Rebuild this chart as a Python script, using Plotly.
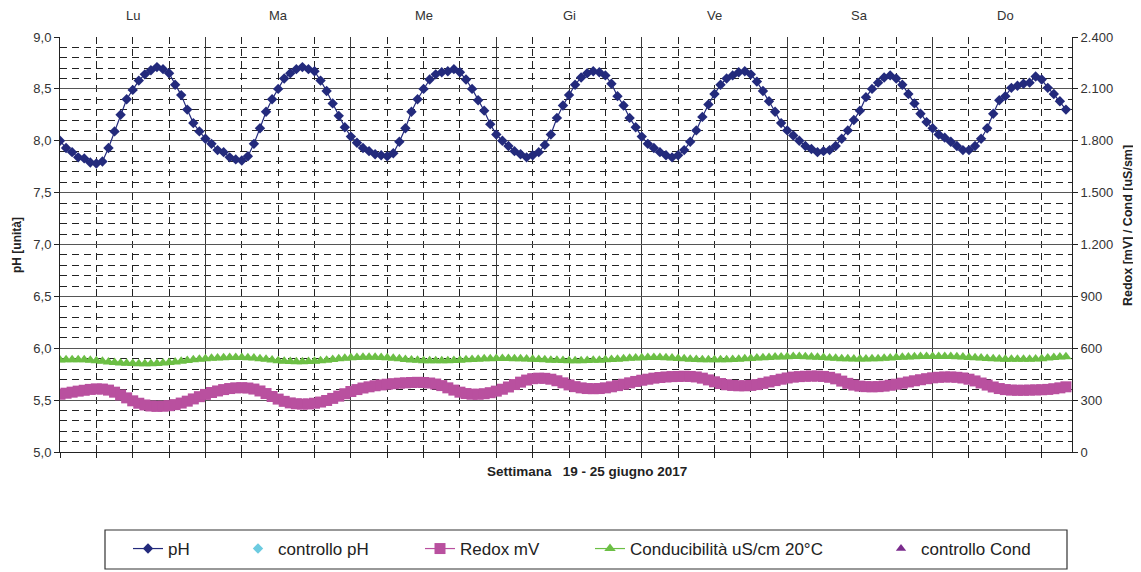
import plotly.graph_objects as go

# ---------------- data (hourly readings, Mon 00:00 -> Sun 22:00) ----------------
days = ["Lu", "Ma", "Me", "Gi", "Ve", "Sa", "Do"]

ph = [8.00, 7.93, 7.89, 7.84, 7.83, 7.79, 7.78, 7.80, 7.93, 8.09, 8.25, 8.40, 8.49, 8.58, 8.64, 8.68,
      8.71, 8.69, 8.65, 8.54, 8.44, 8.30, 8.17, 8.09, 8.02, 7.97, 7.91, 7.89, 7.84, 7.82, 7.81, 7.85,
      7.97, 8.12, 8.28, 8.40, 8.50, 8.60, 8.65, 8.69, 8.71, 8.69, 8.67, 8.58, 8.48, 8.36, 8.24, 8.13,
      8.04, 7.98, 7.93, 7.90, 7.87, 7.86, 7.85, 7.88, 7.99, 8.12, 8.28, 8.40, 8.50, 8.59, 8.64, 8.66,
      8.67, 8.69, 8.66, 8.59, 8.50, 8.39, 8.29, 8.16, 8.06, 8.00, 7.95, 7.90, 7.87, 7.84, 7.86, 7.89,
      7.96, 8.06, 8.22, 8.34, 8.44, 8.54, 8.61, 8.65, 8.67, 8.66, 8.63, 8.55, 8.43, 8.34, 8.22, 8.13,
      8.04, 7.97, 7.93, 7.89, 7.86, 7.84, 7.86, 7.91, 7.99, 8.10, 8.23, 8.35, 8.45, 8.54, 8.60, 8.63,
      8.66, 8.67, 8.64, 8.57, 8.48, 8.38, 8.28, 8.17, 8.10, 8.05, 8.00, 7.95, 7.92, 7.89, 7.90, 7.91,
      7.95, 8.02, 8.10, 8.20, 8.29, 8.42, 8.50, 8.56, 8.61, 8.63, 8.60, 8.54, 8.45, 8.36, 8.26, 8.18,
      8.12, 8.06, 8.03, 7.99, 7.95, 7.91, 7.91, 7.95, 8.02, 8.12, 8.26, 8.39, 8.43, 8.51, 8.53, 8.55,
      8.56, 8.62, 8.59, 8.51, 8.45, 8.38, 8.30]

redox = [334, 340, 346, 352, 357, 362, 365, 364, 358, 346, 330, 313, 296, 282, 272, 266,
         264, 265, 268, 274, 283, 294, 307, 320, 333, 344, 353, 361, 367, 371, 372, 370,
         364, 353, 338, 321, 306, 293, 284, 279, 277, 278, 282, 289, 298, 310, 323, 337,
         350, 361, 370, 377, 383, 388, 392, 395, 398, 400, 402, 403, 402, 399, 393, 384,
         371, 358, 346, 338, 334, 334, 337, 343, 352, 363, 376, 390, 404, 416, 424, 427,
         426, 421, 412, 400, 388, 378, 371, 367, 366, 367, 371, 377, 384, 392, 400, 408,
         415, 421, 427, 431, 434, 436, 437, 438, 437, 434, 427, 417, 406, 396, 389, 385,
         383, 383, 385, 390, 397, 405, 413, 421, 428, 433, 436, 438, 439, 439, 437, 432,
         423, 410, 397, 387, 381, 378, 377, 378, 381, 386, 392, 398, 405, 412, 418, 424,
         429, 432, 434, 434, 432, 428, 421, 411, 399, 387, 376, 367, 361, 358, 357, 357,
         358, 359, 360, 362, 366, 371, 377]

cond = [532, 533, 534, 534, 533, 531, 528, 525, 521, 518, 515, 513, 512, 511, 511, 511,
        512, 514, 517, 521, 525, 529, 533, 537, 540, 542, 544, 545, 546, 546, 546, 545,
        543, 540, 536, 532, 528, 525, 523, 522, 522, 523, 525, 528, 531, 535, 539, 542,
        545, 547, 548, 548, 548, 547, 545, 542, 539, 535, 532, 530, 528, 527, 527, 527,
        528, 529, 531, 533, 535, 537, 539, 540, 541, 541, 541, 540, 539, 538, 537, 535,
        533, 531, 530, 529, 528, 528, 528, 529, 530, 531, 533, 535, 537, 540, 542, 544,
        545, 546, 546, 546, 545, 543, 541, 539, 537, 535, 534, 533, 533, 533, 534, 535,
        537, 539, 541, 543, 545, 547, 549, 550, 551, 552, 552, 551, 550, 548, 546, 544,
        542, 540, 539, 538, 538, 538, 539, 540, 542, 544, 546, 548, 550, 551, 552, 553,
        553, 553, 553, 552, 551, 549, 547, 545, 543, 541, 539, 538, 537, 536, 536, 536,
        537, 538, 540, 543, 546, 549, 551]

controllo_ph = [None]
controllo_cond = [None]

hours = list(range(len(ph)))
day_centers = [12 + 24 * k for k in range(len(days))]

# ---------------- styling ----------------
FONT = "Liberation Sans, Arial, sans-serif"
NAVY = "#232A7C"
CYAN = "#6CCBE0"
MAGENTA = "#B9509F"
GREEN = "#6CBF45"
PURPLE = "#7A2B8C"

fig = go.Figure()

fig.add_trace(go.Scatter(
    x=hours, y=ph, name="pH", mode="lines+markers",
    line=dict(color=NAVY, width=1.2),
    marker=dict(symbol="diamond", size=8, color=NAVY),
    yaxis="y", legend="legend"))

fig.add_trace(go.Scatter(
    x=[0], y=controllo_ph, name="controllo pH", mode="markers",
    marker=dict(symbol="diamond", size=8, color=CYAN),
    yaxis="y", legend="legend2"))

fig.add_trace(go.Scatter(
    x=hours, y=redox, name="Redox mV", mode="lines+markers",
    line=dict(color=MAGENTA, width=1.2),
    marker=dict(symbol="square", size=11, color=MAGENTA),
    yaxis="y2", legend="legend3"))

fig.add_trace(go.Scatter(
    x=hours, y=cond, name="Conducibilità uS/cm 20°C", mode="lines+markers",
    line=dict(color=GREEN, width=1.2),
    marker=dict(symbol="triangle-up", size=10, color=GREEN),
    yaxis="y2", legend="legend4"))

fig.add_trace(go.Scatter(
    x=[0], y=controllo_cond, name="controllo Cond", mode="markers",
    marker=dict(symbol="triangle-up", size=9, color=PURPLE),
    yaxis="y2", legend="legend5"))

# The page body has an 8px default margin: the figure starts at (8, 8) on screen.
OFF = 8
SCREEN_W, SCREEN_H = 1141, 572
PLOT_L, PLOT_R, PLOT_T, PLOT_B = 60, 1072, 37, 452   # target plot box (screen px)
FIG_W, FIG_H = SCREEN_W - OFF, SCREEN_H - OFF
L, T = PLOT_L - OFF, PLOT_T - OFF
R, B = SCREEN_W - PLOT_R, SCREEN_H - PLOT_B
PW, PH = PLOT_R - PLOT_L, PLOT_B - PLOT_T


def px_x(p):
    return (p - PLOT_L) / PW


def px_y(p):
    return (PLOT_B - p) / PH


leg_common = dict(orientation="h", yanchor="middle", xanchor="left",
                  bgcolor="rgba(0,0,0,0)", borderwidth=0,
                  font=dict(family=FONT, size=17, color="#222"))
leg_y = px_y(549)

fig.update_layout(
    width=FIG_W, height=FIG_H, autosize=False,
    separators=",.",
    paper_bgcolor="white", plot_bgcolor="white",
    margin=dict(l=L, r=R, t=T, b=B, pad=0, autoexpand=False),
    font=dict(family=FONT, size=13, color="#333"),
    xaxis=dict(
        range=[0, len(ph)], tick0=0, dtick=24,
        showticklabels=False,
        showgrid=True, gridcolor="#3a3a3a", gridwidth=1,
        showline=True, linecolor="#222", linewidth=1,
        ticks="outside", ticklen=5, tickcolor="#222",
        zeroline=False,
        minor=dict(dtick=6, showgrid=True, gridcolor="#222", griddash="7px,5px",
                   gridwidth=1, ticks="outside", ticklen=5, tickcolor="#222"),
    ),
    yaxis=dict(
        range=[5, 9], dtick=0.5, tick0=5, tickformat=".1f",
        showgrid=True, gridcolor="#555", gridwidth=1,
        showline=True, linecolor="#222", linewidth=1,
        ticks="outside", ticklen=5, tickcolor="#222",
        tickfont=dict(size=13, color="#333"),
        zeroline=False,
        minor=dict(dtick=0.1, showgrid=True, gridcolor="#222", griddash="7px,5px",
                   gridwidth=1),
    ),
    yaxis2=dict(
        range=[0, 2400], dtick=300, tick0=0, tickformat=",d",
        overlaying="y", side="right",
        showgrid=False, zeroline=False,
        showline=True, linecolor="#222", linewidth=1,
        ticks="outside", ticklen=5, tickcolor="#222",
        tickfont=dict(size=13, color="#333"),
    ),
    legend=dict(leg_common, x=px_x(128), y=leg_y),
    legend2=dict(leg_common, x=px_x(238), y=leg_y),
    legend3=dict(leg_common, x=px_x(420), y=leg_y),
    legend4=dict(leg_common, x=px_x(590), y=leg_y),
    legend5=dict(leg_common, x=px_x(881), y=leg_y),
    showlegend=True,
)

# legend frame
fig.add_shape(type="rect", xref="paper", yref="paper",
              x0=px_x(105), x1=px_x(1067), y0=px_y(569), y1=px_y(530),
              line=dict(color="#333", width=1.2), fillcolor="rgba(0,0,0,0)", layer="above")

# day labels along the top
for d, c in zip(days, day_centers):
    fig.add_annotation(x=c, y=px_y(16), xref="x", yref="paper", text=d, showarrow=False,
                       xanchor="center", yanchor="middle",
                       font=dict(family=FONT, size=13, color="#333"))

# axis titles
fig.add_annotation(x=px_x(17), y=px_y(245), xref="paper", yref="paper", text="<b>pH [unità]</b>",
                   textangle=-90, showarrow=False, xanchor="center", yanchor="middle",
                   font=dict(family=FONT, size=12, color="#222"))
fig.add_annotation(x=px_x(1128), y=px_y(226), xref="paper", yref="paper",
                   text="<b>Redox [mV] / Cond [uS/sm]</b>",
                   textangle=-90, showarrow=False, xanchor="center", yanchor="middle",
                   font=dict(family=FONT, size=12.5, color="#222"))
fig.add_annotation(x=px_x(587), y=px_y(471), xref="paper", yref="paper",
                   text="<b>Settimana   19 - 25 giugno 2017</b>",
                   showarrow=False, xanchor="center", yanchor="middle",
                   font=dict(family=FONT, size=13.5, color="#222"))

fig.write_html("out.html")
